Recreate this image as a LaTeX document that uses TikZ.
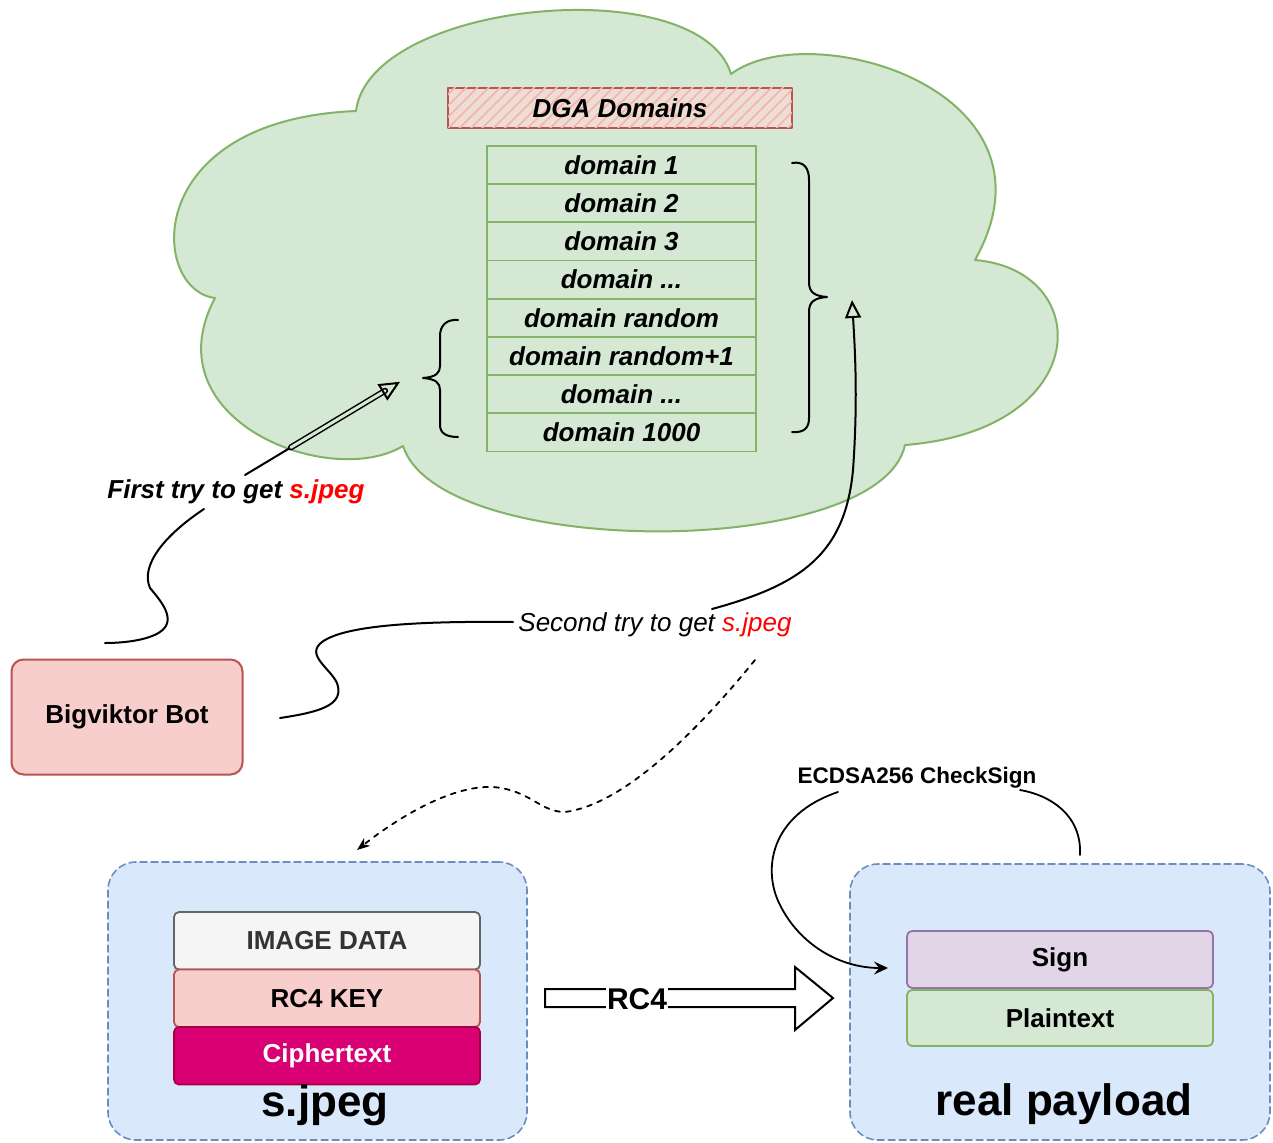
\documentclass[tikz,border=0pt]{standalone}
\usepackage{fontspec}
\setmainfont{Liberation Sans}
\usetikzlibrary{arrows.meta,patterns.meta,calc}
\definecolor{gfill}{HTML}{D5E8D4}
\definecolor{gline}{HTML}{82B366}
\definecolor{rfill}{HTML}{F8CECC}
\definecolor{rline}{HTML}{B85450}
\definecolor{hatchbg}{HTML}{EEDDD3}
\definecolor{hatchln}{HTML}{F4B3B1}
\definecolor{bfill}{HTML}{DAE8FC}
\definecolor{bline}{HTML}{6C8EBF}
\definecolor{pfill}{HTML}{E1D5E7}
\definecolor{pline}{HTML}{9673A6}
\definecolor{gryfill}{HTML}{F5F5F5}
\definecolor{gryline}{HTML}{666666}
\definecolor{gtext}{HTML}{333333}
\definecolor{mfill}{HTML}{D80073}
\definecolor{mline}{HTML}{A50040}
\definecolor{jred}{HTML}{FF0000}
\newcommand\myfs[1]{\fontsize{#1}{#1}\selectfont}
\tikzset{
  dom/.style={draw=gline, fill=gfill, line width=1.8pt, minimum width=269pt, minimum height=38.2pt, inner sep=0pt, font=\myfs{26}\bfseries\itshape},
  cont/.style={draw=bline, fill=bfill, line width=1.6pt, dash pattern=on 7pt off 4pt, rounded corners=28pt, inner sep=0pt},
  layer/.style={line width=1.8pt, rounded corners=5pt, minimum width=306pt, inner sep=0pt, font=\myfs{26}\bfseries},
  lbl/.style={inner sep=1pt, font=\myfs{26}},
  conn/.style={line width=2pt, black},
}
\begin{document}
\begin{tikzpicture}[x=1pt,y=-1pt,line join=round,line cap=round]
\useasboundingbox (0,0) rectangle (1273,1142);
\fill[white] (0,0) rectangle (1273,1142);

% cloud
\draw[gline, fill=gfill, line width=2pt]
  (215,298) .. controls (150,290) and (140,120) .. (356,111)
  .. controls (370,0) and (700,-30) .. (731,74)
  .. controls (810,15) and (1070,90) .. (975,260)
  .. controls (1095,270) and (1095,430) .. (905,445)
  .. controls (880,560) and (440,560) .. (403,446)
  .. controls (330,490) and (150,420) .. (215,298) -- cycle;

% DGA header
\node[draw=rline, fill=hatchbg, line width=2pt, minimum width=344pt, minimum height=40pt, inner sep=0pt,
      postaction={pattern={Lines[angle=45,distance=8pt,line width=1.6pt]}, pattern color=hatchln},
      font=\myfs{26}\bfseries\itshape] (dga) at (620,108) {DGA Domains};

% domain list
\node[dom] (d1) at (621.5,165) {domain 1};
\node[dom] (d2) at (621.5,203.2) {domain 2};
\node[dom] (d3) at (621.5,241.4) {domain 3};
\node[dom] (d4) at (621.5,279.6) {domain ...};
\node[dom] (d5) at (621.5,317.8) {domain random};
\node[dom] (d6) at (621.5,356) {domain random+1};
\node[dom] (d7) at (621.5,394.2) {domain ...};
\node[dom] (d8) at (621.5,432.4) {domain 1000};

% braces
\draw[conn] (792,163) .. controls (804,161) and (809,168) .. (809,180) -- (809,282)
  .. controls (809,292) and (814,296) .. (827,297) .. controls (814,298) and (809,302) .. (809,312)
  -- (809,418) .. controls (809,428) and (804,433) .. (792,432);
\draw[conn] (458,320) .. controls (446,319) and (440,326) .. (440,336) -- (440,366)
  .. controls (440,373) and (436,377) .. (423,378) .. controls (436,379) and (440,383) .. (440,390)
  -- (440,425) .. controls (440,433) and (446,437) .. (458,437);

% Bot
\node[draw=rline, fill=rfill, line width=2pt, rounded corners=12pt, minimum width=231pt, minimum height=115pt,
      inner sep=0pt, font=\myfs{26}\bfseries] (bot) at (127,717) {Bigviktor Bot};

% labels
\node[lbl, font=\myfs{26}\bfseries\itshape] (fl) at (236,492) {First try to get \textcolor{jred}{s.jpeg}};
\node[lbl, font=\myfs{26}\itshape] (sl) at (655,625) {Second try to get \textcolor{jred}{s.jpeg}};

% first try connectors
\coordinate (botA) at (105,643);
\coordinate (flB) at (204,509);
\coordinate (flT) at (245,475);
\coordinate (ftip) at (398,383);
\coordinate (fmid) at ($(flT)!0.3!(ftip)$);
\draw[conn] (botA) .. controls (125,643) and (148,640) .. (160,632)
  .. controls (178,620) and (160,600) .. (150,588)
  .. controls (140,565) and (165,535) .. (flB);
\draw[conn] (flT) -- (fmid);
\draw[black, line width=1.5pt, double=gfill, double distance=3pt] (fmid) -- ($(ftip)!15pt!(flT)$);
\draw[black, line width=2pt, line join=miter] (ftip) -- ($(ftip)!19pt!25:(flT)$) -- ($(ftip)!19pt!-25:(flT)$) -- cycle;

% second try connectors
\coordinate (botB) at (280,718);
\coordinate (slL) at (513,622);
\coordinate (slT) at (712,609);
\coordinate (stip) at (852,300);
\draw[conn] (botB) .. controls (320,712) and (345,705) .. (337,683)
  .. controls (330,668) and (305,655) .. (322,642)
  .. controls (345,625) and (420,621) .. (slL);
\draw[conn, -{Triangle[open,length=18pt,width=16pt,line width=2pt]}] (slT) .. controls (800,585) and (845,555) .. (853,470)
  .. controls (858,400) and (855,350) .. (stip);

% dashed connector
\coordinate (dsA) at (755,660);
\coordinate (dsB) at (357,850);
\draw[black, line width=1.8pt, dash pattern=on 5pt off 6pt, -{Stealth[length=13pt,width=10pt]}]
  (dsA) .. controls (690,740) and (620,805) .. (565,812)
  .. controls (540,812) and (530,790) .. (493,787)
  .. controls (450,785) and (395,820) .. (dsB);

% s.jpeg container
\node[cont, minimum width=419pt, minimum height=278pt] (sj) at (317.5,1001) {};
\node[layer, draw=gryline, fill=gryfill, text=gtext, minimum height=57.5pt] (img) at (327,940.75) {IMAGE DATA};
\node[layer, draw=rline, fill=rfill, minimum height=57.5pt] (key) at (327,998.25) {RC4 KEY};
\node[layer, draw=mline, fill=mfill, text=white, minimum height=57.5pt] (ct) at (327,1055.75) {Ciphertext};
\node[inner sep=0pt, font=\myfs{44}\bfseries] (sjl) at (325,1105) {s.jpeg};

% payload container
\node[cont, minimum width=420pt, minimum height=276pt] (pl) at (1060,1002) {};
\node[layer, draw=pline, fill=pfill, minimum height=57pt] (sign) at (1060,959.5) {Sign};
\node[layer, draw=gline, fill=gfill, minimum height=56pt] (plain) at (1060,1018) {Plaintext};
\node[inner sep=0pt, font=\myfs{44}\bfseries] (rp) at (1064,1104) {real payload};

% RC4 block arrow
\draw[line width=2pt, fill=white, line join=miter] (545,989) -- (795,989) -- (795,967) -- (833,998)
  -- (795,1030) -- (795,1007) -- (545,1007) -- cycle;
\node[fill=white, inner xsep=1pt, inner ysep=3pt, font=\myfs{30}\bfseries] (rc4) at (637,999) {RC4};

% ECDSA check
\node[inner sep=1pt, font=\myfs{22.5}\bfseries] (ecd) at (917,778) {ECDSA256 CheckSign};
\coordinate (ecR) at (1080,855);
\coordinate (ecRL) at (1020,790);
\coordinate (ecL) at (838,792);
\coordinate (ecTip) at (888,968);
\draw[line width=1.8pt] (ecR) .. controls (1082,815) and (1050,795) .. (ecRL);
\draw[line width=1.8pt, -{Stealth[length=14pt,width=13pt,inset=5pt]}] (ecL) .. controls (770,815) and (762,870) .. (780,905)
  .. controls (800,945) and (840,968) .. (ecTip);
\end{tikzpicture}
\end{document}
